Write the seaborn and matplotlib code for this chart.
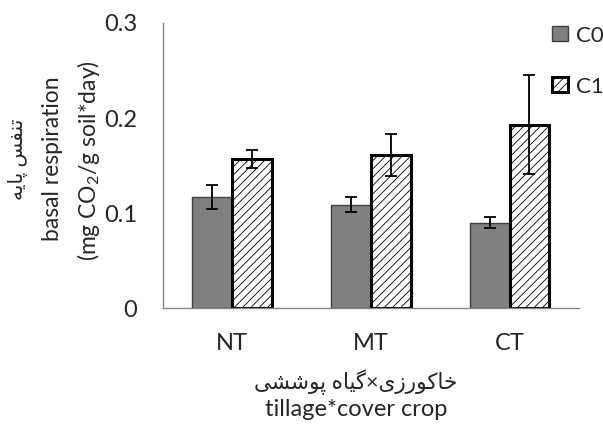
import matplotlib
matplotlib.use("Agg")
import matplotlib.pyplot as plt
import numpy as np
import pandas as pd
import seaborn as sns

# data
tillage = ["NT", "MT", "CT"]
cover = ["C0", "C1"]
c0_mean = [0.117, 0.109, 0.090]
c0_err = [0.013, 0.008, 0.006]
c1_mean = [0.157, 0.161, 0.193]
c1_err = [0.0095, 0.0225, 0.052]
ytick_vals = [0, 0.1, 0.2, 0.3]
ytick_labels = ["0", "0.1", "0.2", "0.3"]

# Persian text given in visual order with presentation forms (matplotlib does no shaping)
ylabel_fa = "\uFEEA\uFBFE\uFE8E\uFB58 \uFEB2\uFED4\uFEE8\uFE97"
ylabel_en1 = "basal respiration"
ylabel_en2 = "(mg CO$_2$/g soil*day)"
xlabel_fa = ("\uFBFD\uFEB8\uFEB7\uFEEE\uFB58 \uFEE9\uFE8E\uFBFF\uFB94\u00D7"
             "\uFBFC\uFEAF\uFEAD\uFEEE\uFB90\uFE8E\uFEA7")
xlabel_en = "tillage*cover crop"

sns.set_style("white")
plt.rcParams["font.family"] = ["Lato", "DejaVu Sans"]
plt.rcParams["mathtext.default"] = "regular"
plt.rcParams["hatch.linewidth"] = 0.6

df = pd.DataFrame({
    "tillage": tillage * 2,
    "cover": [cover[0]] * 3 + [cover[1]] * 3,
    "value": c0_mean + c1_mean,
})
errs = {"C0": c0_err, "C1": c1_err}

fig = plt.figure(figsize=(6.03, 4.25), dpi=100)
ax = fig.add_axes([0.270, 0.275, 0.690, 0.671])

sns.barplot(data=df, x="tillage", y="value", hue="cover", order=tillage,
            hue_order=cover, palette={"C0": "#808080", "C1": "white"},
            width=0.575, errorbar=None, saturation=1, ax=ax)

for lvl, cont in zip(cover, ax.containers):
    xs = [p.get_x() + p.get_width() / 2 for p in cont]
    hs = [p.get_height() for p in cont]
    for p in cont:
        if lvl == "C0":
            p.set_edgecolor("#404040")
            p.set_linewidth(1.0)
        else:
            p.set_edgecolor("black")
            p.set_linewidth(2.2)
            p.set_hatch("////")
            if hasattr(p, "set_hatchcolor"):
                p.set_hatchcolor("#707070")
    ax.errorbar(xs, hs, yerr=errs[lvl], fmt="none", ecolor="black",
                elinewidth=1.3, capsize=4.5, capthick=1.3, zorder=5)

leg = ax.get_legend()
if leg is not None:
    leg.remove()
ax.legend([ax.containers[0][0], ax.containers[1][0]], cover,
          loc="upper left", bbox_to_anchor=(0.915, 1.022), frameon=False,
          fontsize=16, handlelength=0.72, handleheight=0.65,
          handletextpad=0.32, labelspacing=1.4, borderaxespad=0)

ax.set_ylim(0, 0.3)
ax.set_xlim(-0.5, 2.5)
ax.set_yticks(ytick_vals, labels=ytick_labels)
ax.set_xticks([-0.5, 0.5, 1.5, 2.5], minor=True)
ax.tick_params(axis="y", length=6.5, color="#868686", labelsize=17, pad=12)
ax.tick_params(axis="x", which="major", length=0, labelsize=17, pad=18)
ax.tick_params(axis="x", which="minor", length=6.5, color="#868686")
ax.set_xlabel("")
ax.set_ylabel("")
for s in ["top", "right"]:
    ax.spines[s].set_visible(False)
for s in ["left", "bottom"]:
    ax.spines[s].set_color("#868686")
    ax.spines[s].set_linewidth(1.0)

fig.text(18 / 603, 1 - 159 / 425, ylabel_fa, rotation=90, ha="center",
         va="center", fontsize=14.5)
fig.text(53 / 603, 1 - 159 / 425, ylabel_en1, rotation=90, ha="center",
         va="center", fontsize=16.5)
fig.text(89 / 603, 1 - 161 / 425, ylabel_en2, rotation=90, ha="center",
         va="center", fontsize=16.5)
fig.text(356 / 603, 1 - 382 / 425, xlabel_fa, ha="center", va="center",
         fontsize=15.5)
fig.text(356 / 603, 1 - 410 / 425, xlabel_en, ha="center", va="center",
         fontsize=17)

fig.savefig("out.png", dpi=100)
